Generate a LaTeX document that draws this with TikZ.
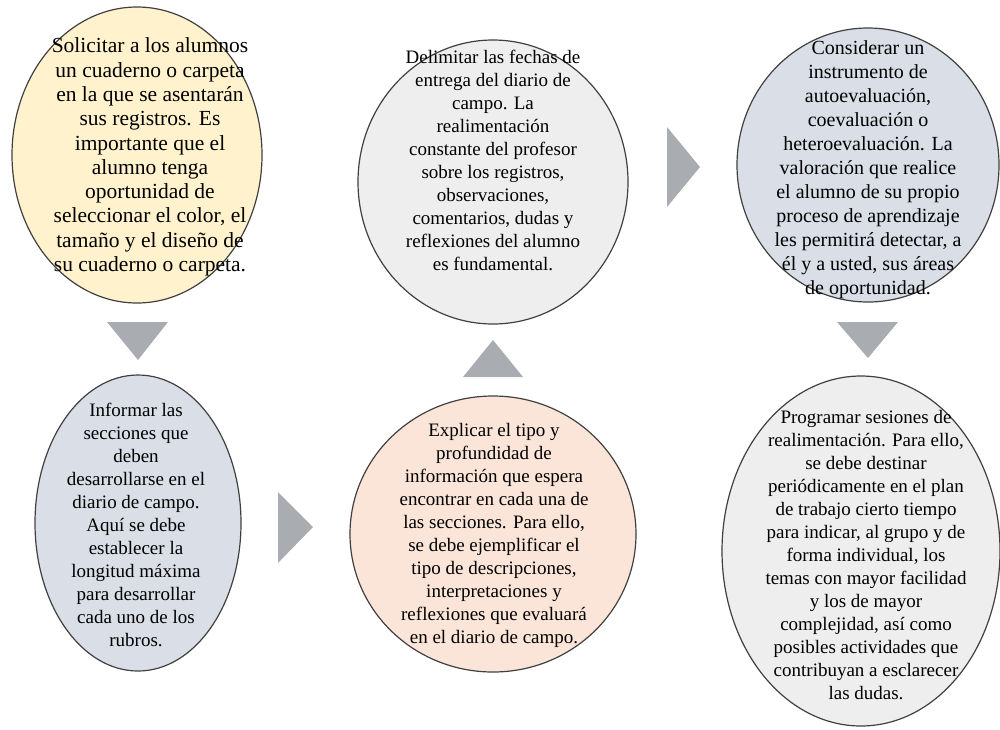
\documentclass[tikz,border=0pt]{standalone}
\usepackage{fontspec}
\setmainfont{Liberation Serif}
\usepackage{tikz}
\usetikzlibrary{arrows,shapes}
\usetikzlibrary{positioning}
\definecolor{yellowfill}{HTML}{FFF2CC}
\definecolor{grayfill}{HTML}{EEEEEF}
\definecolor{bluefill}{HTML}{D9DEE7}
\definecolor{peachfill}{HTML}{FBE5D8}
\definecolor{bordergray}{HTML}{404040}
\definecolor{trigray}{HTML}{A9ACB0}
\tikzstyle{bubble} = [draw=bordergray, line width=1.2pt, ellipse, inner sep=0pt]
\tikzstyle{bubbletext} = [align=center, inner sep=0pt,
    font=\fontsize{19}{23}\selectfont]
\tikzstyle{tri} = [fill=trigray]

\begin{document}
\begin{tikzpicture}[x=1pt, y=-1pt]
  \useasboundingbox (0,0) rectangle (1000,729);
  \node [bubble, fill=yellowfill, minimum width=250pt, minimum height=296pt] (b1) at (137,155) {};
  \node [bubble, fill=grayfill, minimum width=270pt, minimum height=284pt] (b2) at (493,182) {};
  \node [bubble, fill=bluefill, minimum width=262pt, minimum height=274pt] (b3) at (868,165) {};
  \node [bubble, fill=bluefill, minimum width=206pt, minimum height=296pt] (b4) at (138,523) {};
  \node [bubble, fill=peachfill, minimum width=286pt, minimum height=276pt] (b5) at (493,534) {};
  \node [bubble, fill=grayfill, minimum width=278pt, minimum height=350pt] (b6) at (861,551) {};

  \node [bubbletext, font=\fontsize{21.5}{24.3}\selectfont] (t1) at (150,157) {Solicitar a los alumnos\\un cuaderno o carpeta\\en la que se asentarán\\sus registros. Es\\importante que el\\alumno tenga\\oportunidad de\\seleccionar el color, el\\tamaño y el diseño de\\su cuaderno o carpeta.};
  \node [bubbletext] (t2) at (493,160) {Delimitar las fechas de\\entrega del diario de\\campo. La\\realimentación\\constante del profesor\\sobre los registros,\\observaciones,\\comentarios, dudas y\\reflexiones del alumno\\es fundamental.};
  \node [bubbletext, font=\fontsize{20}{24}\selectfont] (t3) at (868,170) {Considerar un\\instrumento de\\autoevaluación,\\coevaluación o\\heteroevaluación. La\\valoración que realice\\el alumno de su propio\\proceso de aprendizaje\\les permitirá detectar, a\\él y a usted, sus áreas\\de oportunidad.};
  \node [bubbletext] (t4) at (136,525) {Informar las\\secciones que\\deben\\desarrollarse en el\\diario de campo.\\Aquí se debe\\establecer la\\longitud máxima\\para desarrollar\\cada uno de los\\rubros.};
  \node [bubbletext] (t5) at (494,535) {Explicar el tipo y\\profundidad de\\información que espera\\encontrar en cada una de\\las secciones. Para ello,\\se debe ejemplificar el\\tipo de descripciones,\\interpretaciones y\\reflexiones que evaluará\\en el diario de campo.};
  \node [bubbletext] (t6) at (866,555) {Programar sesiones de\\realimentación. Para ello,\\se debe destinar\\periódicamente en el plan\\de trabajo cierto tiempo\\para indicar, al grupo y de\\forma individual, los\\temas con mayor facilidad\\y los de mayor\\complejidad, así como\\posibles actividades que\\contribuyan a esclarecer\\las dudas.};

  \fill [tri] (107,322) -- (168,322) -- (138,360) -- cycle;
  \fill [tri] (278,492) -- (278,563) -- (313,527) -- cycle;
  \fill [tri] (463,377) -- (523,377) -- (493,340) -- cycle;
  \fill [tri] (667,127) -- (667,207) -- (700,167) -- cycle;
  \fill [tri] (837,322) -- (898,322) -- (868,358) -- cycle;
\end{tikzpicture}
\end{document}
